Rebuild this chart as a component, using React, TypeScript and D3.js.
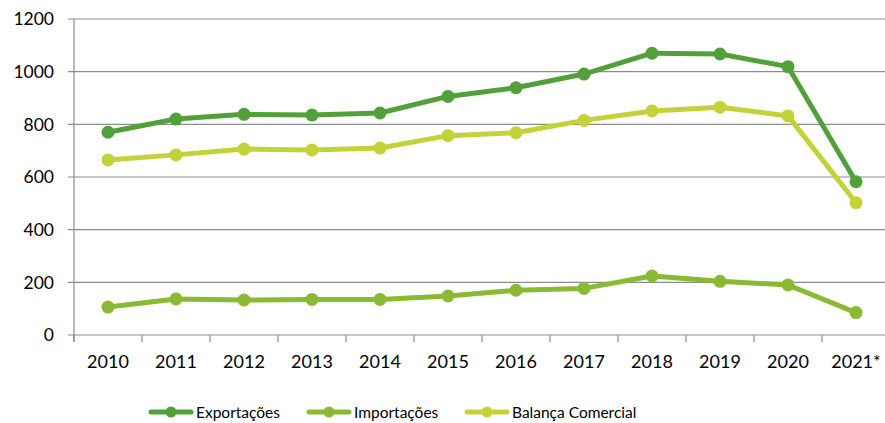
import React from "react";
import * as d3 from "d3";

const categories = ["2010", "2011", "2012", "2013", "2014", "2015", "2016", "2017", "2018", "2019", "2020", "2021*"];
const exportacoes = [770, 820, 838, 835, 843, 906, 939, 991, 1070, 1067, 1019, 582];
const importacoes = [106, 137, 133, 135, 135, 148, 170, 177, 224, 204, 190, 85];
const balanca = [665, 684, 706, 703, 710, 757, 768, 815, 851, 865, 832, 502];
const yTicks = [0, 200, 400, 600, 800, 1000, 1200];

const seriesList = [
  { name: "Exportações", values: exportacoes, color: "#52A03A" },
  { name: "Importações", values: importacoes, color: "#8ABA34" },
  { name: "Balança Comercial", values: balanca, color: "#C4D23A" },
];

const W = 885;
const H = 423;
const FONT = "Lato, 'Open Sans', sans-serif";

export default function App() {
  const x = d3.scaleBand().domain(categories).range([74, 890]);
  const y = d3.scaleLinear().domain([0, 1200]).range([335, 19]);
  const line = d3
    .line<number>()
    .x((_, i) => (x(categories[i]) as number) + x.bandwidth() / 2)
    .y((d) => y(d));

  const legendPos = [149, 307, 465];

  return (
    <svg width={W} height={H} style={{ position: "absolute", left: 0, top: 0 }} fontFamily={FONT}>
      <rect width={W} height={H} fill="#ffffff" />
      {yTicks.map((t) => (
        <g key={t}>
          <line x1={68} x2={W} y1={y(t)} y2={y(t)} stroke="#8c8c8c" strokeWidth={1.2} />
          <text x={54} y={y(t)} dy="0.36em" textAnchor="end" fontSize={17.5} fill="#000">
            {t}
          </text>
        </g>
      ))}
      <line x1={74} x2={74} y1={19} y2={342} stroke="#8c8c8c" strokeWidth={1.2} />
      {categories.map((c) => (
        <g key={c}>
          <line x1={x(c) as number} x2={x(c) as number} y1={335} y2={342} stroke="#8c8c8c" strokeWidth={1.2} />
          <text
            x={(x(c) as number) + x.bandwidth() / 2}
            y={368}
            textAnchor="middle"
            fontSize={18}
            fill="#000"
          >
            {c}
          </text>
        </g>
      ))}
      {seriesList.map((s) => (
        <g key={s.name}>
          <path d={line(s.values) || ""} fill="none" stroke={s.color} strokeWidth={5} strokeLinejoin="round" />
          {s.values.map((v, i) => (
            <circle
              key={i}
              cx={(x(categories[i]) as number) + x.bandwidth() / 2}
              cy={y(v)}
              r={6.5}
              fill={s.color}
            />
          ))}
        </g>
      ))}
      {seriesList.map((s, i) => (
        <g key={s.name} transform={`translate(${legendPos[i]},412)`}>
          <line x1={2} x2={42} y1={0} y2={0} stroke={s.color} strokeWidth={5} strokeLinecap="round" />
          <circle cx={22} cy={0} r={5.5} fill={s.color} />
          <text x={47} y={0} dy="0.36em" fontSize={15.5} fill="#000">
            {s.name}
          </text>
        </g>
      ))}
    </svg>
  );
}
